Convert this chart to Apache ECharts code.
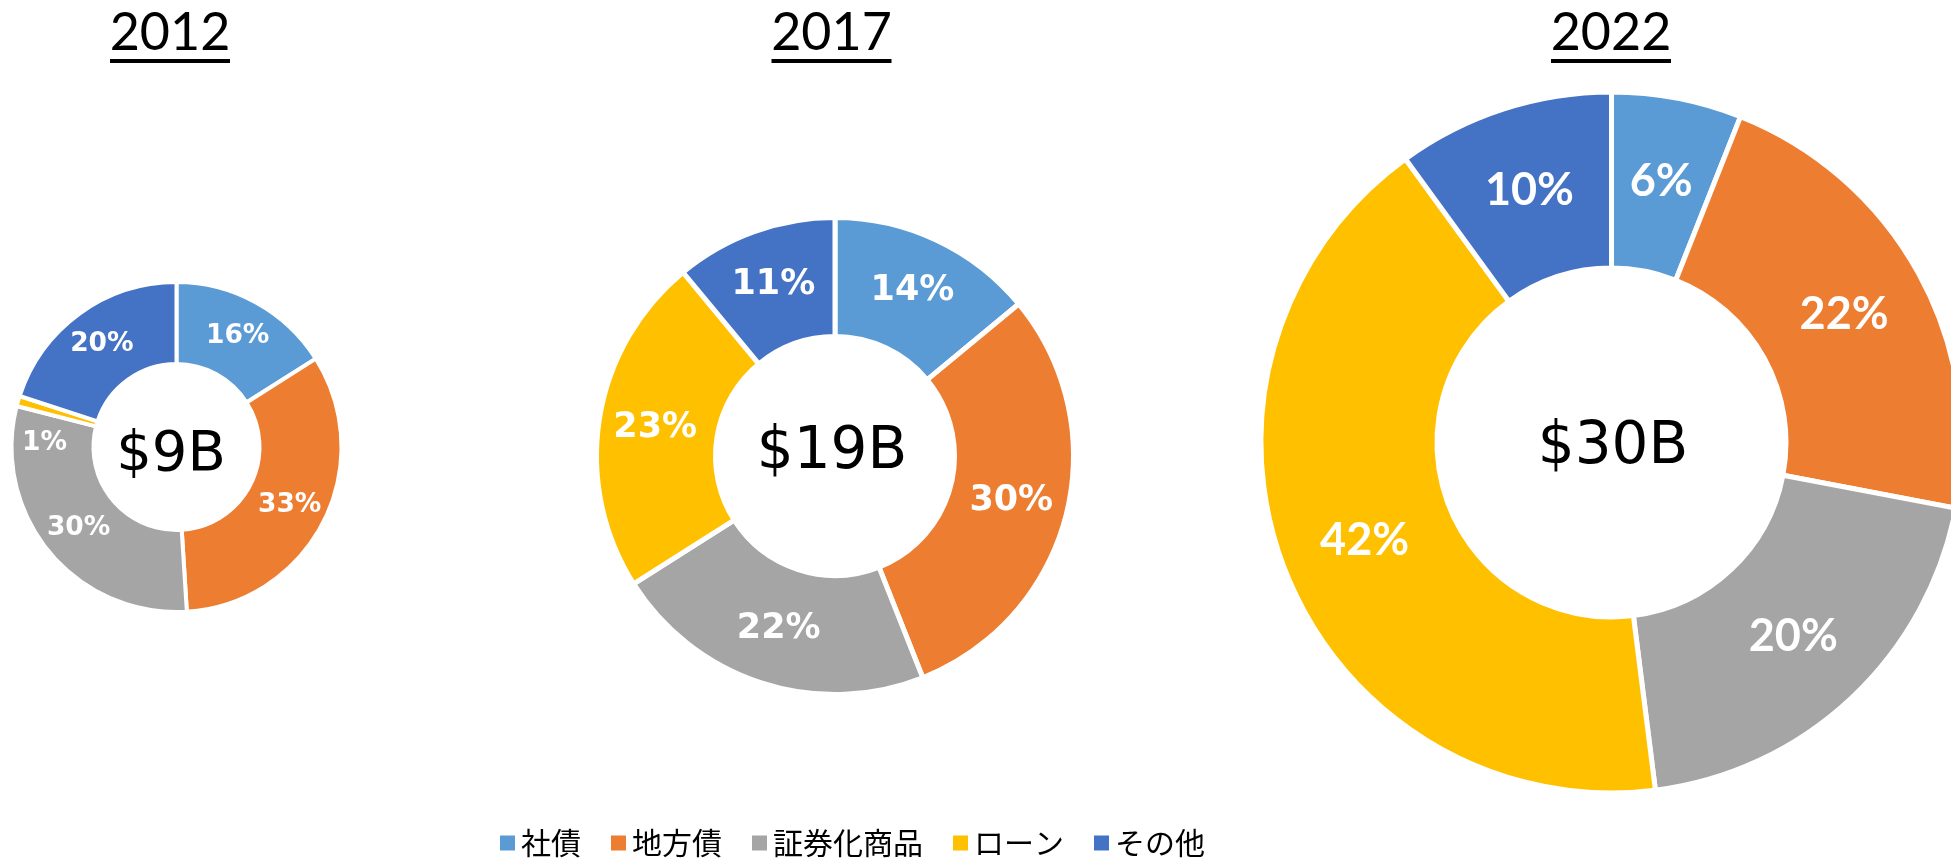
<!DOCTYPE html>
<html>
<head>
<meta charset="utf-8">
<script src="https://cdn.jsdelivr.net/npm/echarts@6/dist/echarts.min.js"></script>
<style>
  html, body { margin: 0; padding: 0; background: #fff; }
  #chart { width: 1951px; height: 859px; }
</style>
</head>
<body>
<div id="chart"></div>
<script>
// data
const categories = ["社債", "地方債", "証券化商品", "ローン", "その他"];
const years = ["2012", "2017", "2022"];
const totals = ["$9B", "$19B", "$30B"];
const share2012 = [16, 33, 30, 1, 20];
const share2017 = [14, 30, 22, 23, 11];
const share2022 = [6, 22, 20, 42, 10];
const shares = [share2012, share2017, share2022];

const colors = ["#5B9BD5", "#ED7D31", "#A5A5A5", "#FFC000", "#4472C4"];

// layout of the three donuts (pixels)
const layout = [
  { cx: 176.5, cy: 447, r0: 85, r: 163, bw: 4, font: 26.5, family: "DejaVu Sans", total: 56, tx: 171, ty: 455 },
  { cx: 835, cy: 456, r0: 122, r: 236, bw: 5, font: 35, family: "DejaVu Sans", total: 58, tx: 832, ty: 452.5 },
  { cx: 1611.5, cy: 442.5, r0: 177, r: 348, bw: 5, font: 45, family: "Lato", total: 58, tx: 1613, ty: 448 }
];
const titleX = [170, 831.5, 1611];

const chart = echarts.init(document.getElementById("chart"));

const series = shares.map(function (vals, i) {
  const l = layout[i];
  return {
    type: "pie",
    name: years[i],
    center: [l.cx, l.cy],
    radius: [l.r0 - l.bw / 2, l.r + l.bw / 2],
    startAngle: 90,
    clockwise: true,
    avoidLabelOverlap: false,
    silent: true,
    itemStyle: { borderColor: "#fff", borderWidth: l.bw },
    label: {
      show: true,
      position: "inside",
      formatter: "{c}%",
      color: "#fff",
      fontFamily: l.family,
      fontWeight: "bold",
      fontSize: l.font
    },
    labelLine: { show: false },
    data: categories.map(function (name, k) {
      const item = { name: name, value: vals[k] };
      // tiny 2012 loan slice: label sits just below it
      if (i === 0 && k === 3) item.label = { offset: [-10, 32] };
      return item;
    })
  };
});

const graphics = [];
years.forEach(function (y, i) {
  const l = layout[i];
  graphics.push({
    type: "text",
    x: titleX[i],
    y: 33.5,
    style: {
      text: y,
      font: "52px Lato",
      fill: "#000",
      textAlign: "center",
      textVerticalAlign: "middle"
    }
  });
  graphics.push({
    type: "rect",
    shape: { x: titleX[i] - 60, y: 59, width: 120, height: 4 },
    style: { fill: "#000" }
  });
  graphics.push({
    type: "text",
    x: l.tx,
    y: l.ty,
    style: {
      text: totals[i],
      font: l.total + "px 'DejaVu Sans'",
      fill: "#000",
      textAlign: "center",
      textVerticalAlign: "middle"
    }
  });
});

chart.setOption({
  animation: false,
  backgroundColor: "#fff",
  color: colors,
  legend: {
    data: categories,
    left: 493,
    top: 823,
    icon: "rect",
    itemWidth: 17,
    itemHeight: 17,
    itemGap: 28,
    textStyle: {
      color: "#000",
      fontSize: 30,
      fontFamily: "Noto Sans CJK JP"
    }
  },
  graphic: graphics,
  series: series
});
</script>
</body>
</html>
